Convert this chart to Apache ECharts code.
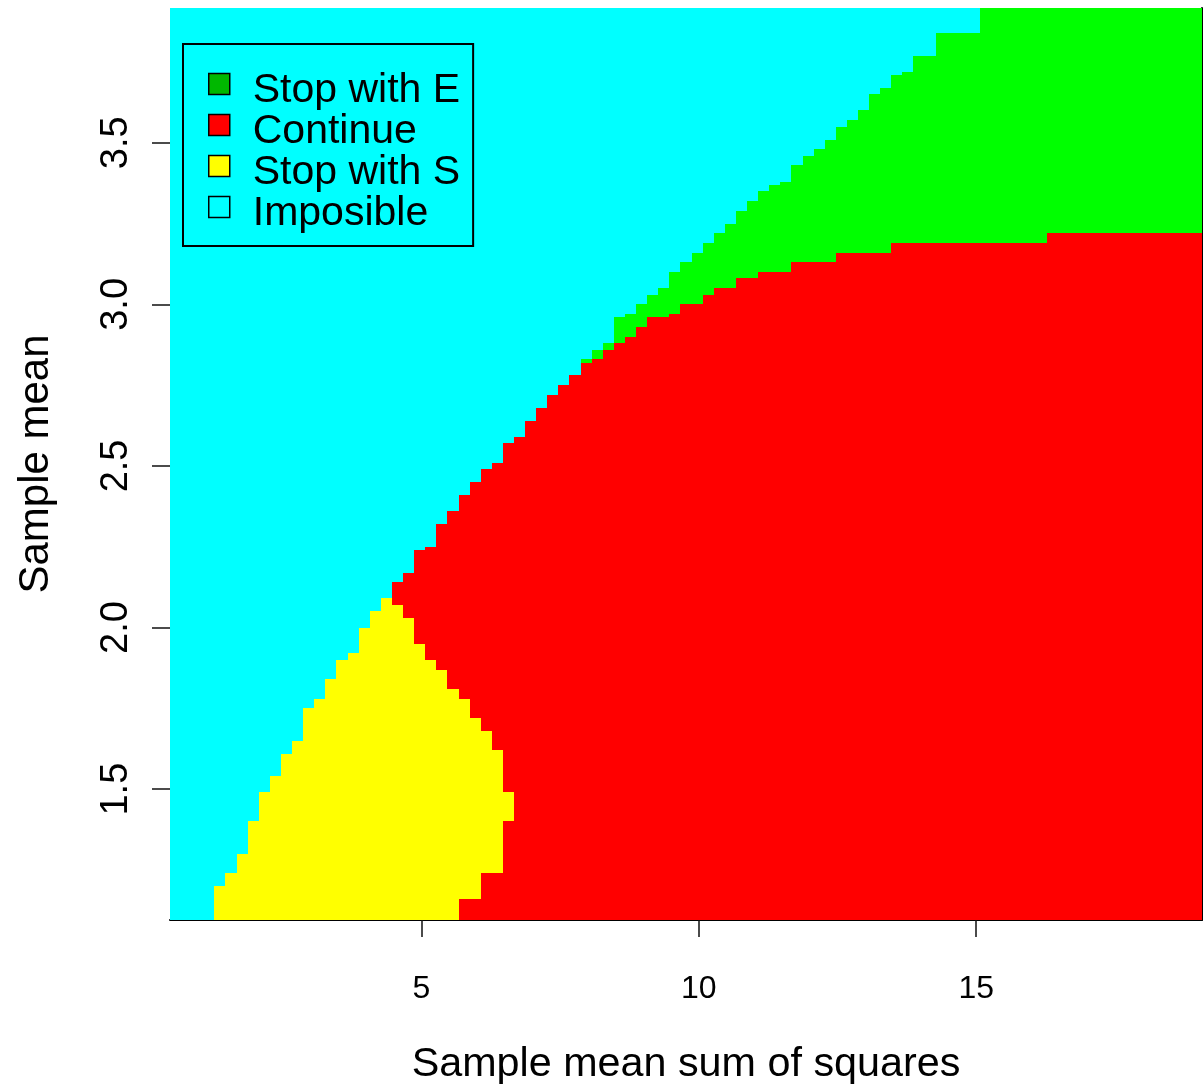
<!DOCTYPE html>
<html><head><meta charset="utf-8">
<script src="https://cdn.jsdelivr.net/npm/echarts@6/dist/echarts.min.js"></script>
<style>html,body{margin:0;padding:0;background:#fff}#c{width:1203px;height:1090px}</style>
</head><body><div id="c"></div>
<script>
// Column centres (sample mean sum of squares)
const colX = [0.57,0.77,0.97,1.17,1.37,1.57,1.77,1.97,2.17,2.37,2.57,2.77,2.97,3.17,3.37,3.57,3.77,3.97,4.17,4.37,
  4.57,4.77,4.97,5.17,5.37,5.57,5.77,5.97,6.17,6.37,6.57,6.77,6.97,7.17,7.37,7.57,7.77,7.97,8.17,8.37,
  8.57,8.77,8.97,9.17,9.37,9.57,9.77,9.97,10.17,10.37,10.57,10.77,10.97,11.17,11.37,11.57,11.77,11.97,12.17,12.37,
  12.57,12.77,12.97,13.17,13.37,13.57,13.77,13.97,14.17,14.37,14.57,14.77,14.97,15.17,15.37,15.57,15.77,15.97,16.17,16.37,
  16.57,16.77,16.97,17.17,17.37,17.57,17.77,17.97,18.17,18.37,18.57,18.77,18.97];
// Upper edge of the possible region (above: "Imposible")
const feasibleTop = [null,null,null,null,1.20,1.24,1.30,1.40,1.49,1.54,1.61,1.65,1.75,1.78,1.84,1.90,1.92,2.00,2.05,2.09,
  2.14,2.17,2.24,2.25,2.32,2.36,2.41,2.45,2.49,2.51,2.57,2.59,2.64,2.68,2.72,2.75,2.78,2.83,2.86,2.88,
  2.96,2.97,3.00,3.03,3.05,3.10,3.13,3.16,3.19,3.22,3.25,3.29,3.32,3.35,3.37,3.38,3.43,3.46,3.48,3.51,
  3.55,3.57,3.60,3.65,3.67,3.71,3.72,3.77,3.77,3.84,3.84,3.84,3.84,3.92,3.92,3.92,3.92,3.92,3.92,3.92,
  3.92,3.92,3.92,3.92,3.92,3.92,3.92,3.92,3.92,3.92,3.92,3.92,3.92];
// Lower edge of "Stop with E" (green) region
const eLow = [null,null,null,null,null,null,null,null,null,null,null,null,null,null,null,null,null,null,null,null,
  null,null,null,null,null,null,null,null,null,null,null,null,null,null,null,null,null,2.82,2.83,2.86,
  2.88,2.90,2.93,2.96,2.96,2.97,3.00,3.00,3.03,3.05,3.05,3.08,3.08,3.10,3.10,3.10,3.13,3.13,3.13,3.13,
  3.16,3.16,3.16,3.16,3.16,3.19,3.19,3.19,3.19,3.19,3.19,3.19,3.19,3.19,3.19,3.19,3.19,3.19,3.19,3.22,
  3.22,3.22,3.22,3.22,3.22,3.22,3.22,3.22,3.22,3.22,3.22,3.22,3.22];
// Upper / lower edges of "Stop with S" (yellow) region (null lower edge = from the bottom)
const sHigh = [null,null,null,null,1.20,1.24,1.30,1.40,1.49,1.54,1.61,1.65,1.75,1.78,1.84,1.90,1.92,2.00,2.05,2.09,
  2.07,2.03,1.95,1.90,1.87,1.81,1.78,1.72,1.68,1.62,1.49,null,null,null,null,null,null,null,null,null,
  null,null,null,null,null,null,null,null,null,null,null,null,null,null,null,null,null,null,null,null,
  null,null,null,null,null,null,null,null,null,null,null,null,null,null,null,null,null,null,null,null,
  null,null,null,null,null,null,null,null,null,null,null,null,null];
const sLow = [null,null,null,null,null,null,null,null,null,null,null,null,null,null,null,null,null,null,null,null,
  null,null,null,null,null,null,1.16,1.16,1.24,1.24,1.40,null,null,null,null,null,null,null,null,null,
  null,null,null,null,null,null,null,null,null,null,null,null,null,null,null,null,null,null,null,null,
  null,null,null,null,null,null,null,null,null,null,null,null,null,null,null,null,null,null,null,null,
  null,null,null,null,null,null,null,null,null,null,null,null,null];

const categories = ['Stop with E', 'Continue', 'Stop with S', 'Imposible'];
const catColors = ['#00ff00', '#ff0000', '#ffff00', '#00ffff'];
const legendColors = ['#00b800', '#ff0000', '#ffff00', '#00ffff'];
const xTicks = [5, 10, 15];
const yTicks = [1.5, 2.0, 2.5, 3.0, 3.5];

const X_MIN = 0.47, X_MAX = 19.07, Y_MIN = 1.095, Y_MAX = 3.917;
const FONT = '"Liberation Sans", Arial, sans-serif';

const half = (colX[1] - colX[0]) / 2;
const segs = [[], [], [], []]; // E, C, S, I
for (let i = 0; i < colX.length; i++) {
  const x0 = colX[i] - half, x1 = colX[i] + half;
  const t = feasibleTop[i];
  if (t == null) { segs[3].push([x0, x1, Y_MIN, Y_MAX]); continue; }
  if (t < Y_MAX) segs[3].push([x0, x1, t, Y_MAX]);
  const redTop = eLow[i] != null ? eLow[i] : t;
  if (eLow[i] != null) segs[0].push([x0, x1, eLow[i], t]);
  if (sHigh[i] != null) {
    const lo = sLow[i] != null ? sLow[i] : Y_MIN;
    segs[2].push([x0, x1, lo, sHigh[i]]);
    if (lo > Y_MIN) segs[1].push([x0, x1, Y_MIN, lo]);
    if (sHigh[i] < redTop) segs[1].push([x0, x1, sHigh[i], redTop]);
  } else {
    segs[1].push([x0, x1, Y_MIN, redTop]);
  }
}

function renderCell(params, api) {
  const p0 = api.coord([api.value(0), api.value(3)]);
  const p1 = api.coord([api.value(1), api.value(2)]);
  const x = Math.round(p0[0]), y = Math.round(p0[1]);
  const rect = { x: x, y: y, width: Math.round(p1[0]) - x, height: Math.round(p1[1]) - y };
  const cs = params.coordSys;
  const shape = echarts.graphic.clipRectByRect(rect, { x: cs.x, y: cs.y, width: cs.width, height: cs.height });
  if (!shape) return;
  return { type: 'rect', shape: shape, style: { fill: api.visual('color') } };
}

const chart = echarts.init(document.getElementById('c'), null, { renderer: 'canvas' });
chart.setOption({
  backgroundColor: '#ffffff',
  animation: false,
  grid: { left: 170, top: 8, width: 1032, height: 913 },
  xAxis: {
    type: 'value', min: X_MIN, max: X_MAX,
    name: 'Sample mean sum of squares', nameLocation: 'middle', nameGap: 124,
    nameTextStyle: { fontSize: 41.3, color: '#000', fontFamily: FONT },
    axisLine: { show: true, onZero: false, lineStyle: { color: '#000', width: 2 } },
    axisTick: { show: true, length: 17, customValues: xTicks, lineStyle: { color: '#111', width: 1.5 } },
    axisLabel: { customValues: xTicks, fontSize: 32, color: '#000', fontFamily: FONT, margin: 53 },
    splitLine: { show: false }
  },
  yAxis: [{
    type: 'value', min: Y_MIN, max: Y_MAX,
    name: 'Sample mean', nameLocation: 'middle', nameGap: 113,
    nameTextStyle: { fontSize: 42, color: '#000', fontFamily: FONT },
    axisLine: { show: false },
    axisTick: { show: true, length: 18, customValues: yTicks, lineStyle: { color: '#111', width: 1.5 } },
    axisLabel: { customValues: yTicks, rotate: 90, fontSize: 38, color: '#000', fontFamily: FONT, margin: 34,
      formatter: v => Number(v).toFixed(1) },
    splitLine: { show: false }
  }, {
    type: 'value', min: Y_MIN, max: Y_MAX, position: 'right',
    axisLine: { show: true, lineStyle: { color: '#000', width: 2 } },
    axisTick: { show: false }, axisLabel: { show: false }, splitLine: { show: false }
  }],
  legend: {
    left: 183, top: 44, orient: 'vertical',
    padding: [12.6, 13, 11.5, 25], itemGap: -14,
    itemWidth: 21, itemHeight: 21, icon: 'rect',
    borderColor: '#000', borderWidth: 2, backgroundColor: 'transparent',
    itemStyle: { borderColor: '#000', borderWidth: 1.5 },
    data: categories.map((n, k) => ({ name: n, itemStyle: { color: legendColors[k] } })),
    formatter: name => '{t|' + name + '}',
    textStyle: {
      rich: { t: { fontSize: 41, lineHeight: 40.7, color: '#000', fontFamily: FONT, padding: [14, 0, 0, 18] } }
    },
    selectedMode: false
  },
  series: categories.map((n, k) => ({
    type: 'custom', name: n, xAxisIndex: 0, yAxisIndex: 0,
    renderItem: renderCell,
    itemStyle: { color: catColors[k] },
    encode: { x: [0, 1], y: [2, 3] },
    data: segs[k],
    z: k === 3 ? 1 : 2
  }))
});
</script>
</body></html>
